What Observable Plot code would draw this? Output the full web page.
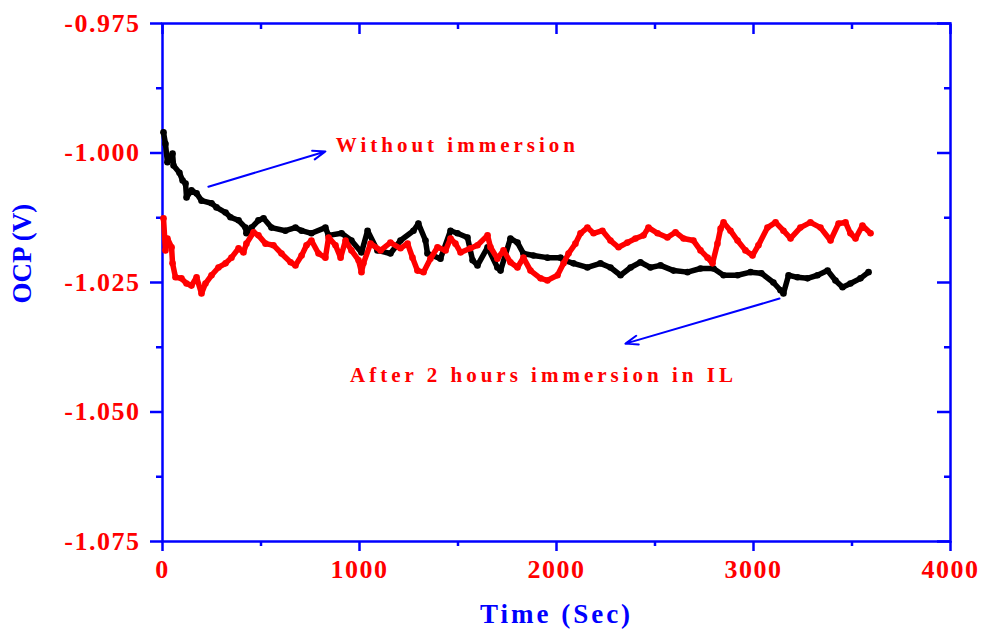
<!DOCTYPE html>
<html>
<head>
<meta charset="utf-8">
<script src="https://cdn.jsdelivr.net/npm/d3@7"></script>
<script src="https://cdn.jsdelivr.net/npm/@observablehq/plot@0.6"></script>
<style>
  body { margin: 0; background: #fff; }
  #chart svg { display: block; }
</style>
</head>
<body>
<div id="chart"></div>
<script>
// Open-circuit potential vs time, two conditions
const seriesNames = ["Without immersion", "After 2 hours immersion in IL"];

// Without immersion: [time (s), OCP (V)]
const withoutImmersion = [
  [5,-0.9960],[15,-0.9982],[25,-1.0018],[51,-1.0001],[56,-1.0024],[86,-1.0038],[102,-1.0053],
  [117,-1.0059],[122,-1.0086],[147,-1.0072],[173,-1.0078],[198,-1.0092],[249,-1.0097],[274,-1.0105],
  [320,-1.0115],[345,-1.0124],[386,-1.0130],[421,-1.0144],[426,-1.0155],[452,-1.0144],[487,-1.0130],
  [513,-1.0126],[553,-1.0144],[624,-1.0150],[675,-1.0144],[706,-1.0150],[756,-1.0155],[827,-1.0144],
  [843,-1.0159],[909,-1.0155],[959,-1.0169],[1010,-1.0192],[1041,-1.0150],[1091,-1.0188],[1157,-1.0194],
  [1208,-1.0169],[1274,-1.0150],[1299,-1.0136],[1335,-1.0169],[1345,-1.0194],[1411,-1.0204],[1462,-1.0150],
  [1497,-1.0155],[1548,-1.0163],[1574,-1.0207],[1599,-1.0217],[1650,-1.0182],[1700,-1.0221],[1716,-1.0227],
  [1766,-1.0165],[1802,-1.0173],[1832,-1.0194],[1883,-1.0198],[1954,-1.0202],[2020,-1.0202],[2036,-1.0207],
  [2086,-1.0213],[2157,-1.0221],[2223,-1.0213],[2274,-1.0221],[2325,-1.0236],[2376,-1.0221],[2426,-1.0211],
  [2477,-1.0221],[2528,-1.0217],[2594,-1.0227],[2665,-1.0230],[2731,-1.0223],[2797,-1.0223],[2848,-1.0236],
  [2919,-1.0236],[2985,-1.0230],[3040,-1.0232],[3101,-1.0250],[3137,-1.0265],[3152,-1.0271],[3178,-1.0236],
  [3223,-1.0240],[3274,-1.0242],[3325,-1.0236],[3376,-1.0227],[3416,-1.0246],[3452,-1.0259],[3492,-1.0252],
  [3543,-1.0242],[3584,-1.0230]
];

// After 2 hours immersion in IL: [time (s), OCP (V)]
const afterImmersion = [
  [5,-1.0126],[15,-1.0188],[25,-1.0165],[46,-1.0182],[51,-1.0213],[66,-1.0240],[96,-1.0242],
  [122,-1.0252],[147,-1.0256],[173,-1.0240],[198,-1.0271],[218,-1.0252],[249,-1.0236],[284,-1.0221],
  [320,-1.0213],[350,-1.0202],[386,-1.0184],[411,-1.0192],[426,-1.0175],[462,-1.0153],[487,-1.0159],
  [523,-1.0175],[563,-1.0178],[604,-1.0194],[650,-1.0211],[675,-1.0217],[706,-1.0198],[731,-1.0178],
  [756,-1.0169],[792,-1.0194],[827,-1.0202],[843,-1.0163],[878,-1.0178],[904,-1.0202],[929,-1.0169],
  [959,-1.0188],[995,-1.0207],[1010,-1.0230],[1020,-1.0213],[1056,-1.0175],[1107,-1.0188],[1157,-1.0173],
  [1208,-1.0184],[1244,-1.0175],[1269,-1.0202],[1294,-1.0227],[1325,-1.0230],[1360,-1.0204],[1396,-1.0182],
  [1437,-1.0188],[1462,-1.0165],[1487,-1.0175],[1513,-1.0192],[1563,-1.0184],[1599,-1.0178],[1650,-1.0159],
  [1665,-1.0182],[1700,-1.0204],[1731,-1.0188],[1766,-1.0211],[1802,-1.0221],[1832,-1.0202],[1868,-1.0227],
  [1919,-1.0242],[1954,-1.0246],[2005,-1.0236],[2036,-1.0213],[2061,-1.0194],[2096,-1.0175],[2122,-1.0155],
  [2157,-1.0144],[2188,-1.0155],[2233,-1.0150],[2274,-1.0169],[2315,-1.0182],[2360,-1.0173],[2401,-1.0165],
  [2442,-1.0159],[2467,-1.0144],[2513,-1.0155],[2563,-1.0163],[2604,-1.0153],[2645,-1.0165],[2695,-1.0169],
  [2731,-1.0188],[2767,-1.0202],[2792,-1.0213],[2817,-1.0175],[2833,-1.0146],[2848,-1.0134],[2883,-1.0150],
  [2919,-1.0169],[2959,-1.0188],[2995,-1.0198],[3025,-1.0178],[3071,-1.0144],[3112,-1.0134],[3152,-1.0150],
  [3188,-1.0165],[3238,-1.0144],[3289,-1.0134],[3340,-1.0144],[3391,-1.0169],[3432,-1.0136],[3467,-1.0134],
  [3492,-1.0155],[3518,-1.0165],[3553,-1.0140],[3594,-1.0155]
];

// Axis ticks
const xMajor = [0, 1000, 2000, 3000, 4000];
const xMinor = [500, 1500, 2500, 3500];
const yMajor = [-0.975, -1.000, -1.025, -1.050, -1.075];
const yMinor = [-0.9875, -1.0125, -1.0375, -1.0625];

// Callout arrows: [x1, y1, x2, y2] in data units, pointing from curve to label
const arrows = [
  [233, -1.0065, 827, -0.9997],
  [3132, -1.0281, 2350, -1.0368]
];
// Callout labels: [x, y, text]
const callouts = [
  [1497, -0.9986, seriesNames[0]],
  [1934, -1.0430, seriesNames[1]]
];

const blue = "#0000ff";
const red = "#ff0000";
const serif = "'Liberation Serif', 'Times New Roman', serif";

const toRows = (arr) => arr.map(([t, v]) => ({t, v}));
const black = toRows(withoutImmersion);
const redRows = toRows(afterImmersion);

const chart = Plot.plot({
  width: 982,
  height: 632,
  marginLeft: 162,
  marginRight: 32,
  marginTop: 23,
  marginBottom: 91,
  style: {fontFamily: serif, background: "#fff"},
  x: {domain: [0, 4000]},
  y: {domain: [-1.075, -0.975]},
  marks: [
    // outer ticks: bottom and left
    Plot.axisX({anchor: "bottom", ticks: xMajor, tickSize: 10, tickFormat: () => "", stroke: blue, strokeWidth: 2.5, label: null}),
    Plot.axisX({anchor: "bottom", ticks: xMinor, tickSize: 5, tickFormat: () => "", stroke: blue, strokeWidth: 2.5, label: null}),
    Plot.axisY({anchor: "left", ticks: yMajor, tickSize: 12, tickFormat: () => "", stroke: blue, strokeWidth: 2.5, label: null}),
    Plot.axisY({anchor: "left", ticks: yMinor, tickSize: 6, tickFormat: () => "", stroke: blue, strokeWidth: 2.5, label: null}),
    // inner ticks: top and right
    Plot.axisX({anchor: "top", ticks: xMajor, tickSize: -10, tickFormat: () => "", stroke: blue, strokeWidth: 2.5, label: null}),
    Plot.axisX({anchor: "top", ticks: xMinor, tickSize: -5, tickFormat: () => "", stroke: blue, strokeWidth: 2.5, label: null}),
    Plot.axisY({anchor: "right", ticks: yMajor, tickSize: -14, tickFormat: () => "", stroke: blue, strokeWidth: 2.5, label: null}),
    Plot.axisY({anchor: "right", ticks: yMinor, tickSize: -7, tickFormat: () => "", stroke: blue, strokeWidth: 2.5, label: null}),
    // tick labels (plain hyphen for the minus sign)
    Plot.axisX({anchor: "bottom", ticks: xMajor, tickSize: 0, tickPadding: 18, tickFormat: d => String(d),
      fill: red, fontSize: 26, fontWeight: "bold", label: null}),
    Plot.axisY({anchor: "left", ticks: yMajor, tickSize: 0, tickPadding: 22, tickFormat: d => d.toFixed(3),
      fill: red, fontSize: 26, fontWeight: "bold", label: null}),
    Plot.frame({stroke: blue, strokeWidth: 2.5}),
    // series
    Plot.line(black, {x: "t", y: "v", stroke: "#000", strokeWidth: 5.5, strokeLinejoin: "round", strokeLinecap: "round"}),
    Plot.dot(black, {x: "t", y: "v", r: 3.3, fill: "#000"}),
    Plot.line(redRows, {x: "t", y: "v", stroke: red, strokeWidth: 5.5, strokeLinejoin: "round", strokeLinecap: "round"}),
    Plot.dot(redRows, {x: "t", y: "v", r: 3.3, fill: red}),
    // callouts
    Plot.arrow(arrows, {x1: d => d[0], y1: d => d[1], x2: d => d[2], y2: d => d[3], stroke: blue, strokeWidth: 2, headLength: 10, headAngle: 40}),
    Plot.text(callouts, {x: d => d[0], y: d => d[1], text: d => d[2], fill: red, fontSize: 21, fontWeight: "bold"}),
    // axis titles
    Plot.text(["Time (Sec)"], {frameAnchor: "bottom", dy: 81, fill: blue, fontSize: 27, fontWeight: "bold"}),
    Plot.text(["OCP (V)"], {frameAnchor: "left", dx: -140, dy: 21, rotate: -90, fill: blue, fontSize: 27, fontWeight: "bold"})
  ]
});

// letter spacing on labels, set after render
d3.select(chart).selectAll("text").each(function () {
  const s = this.textContent;
  let ls = 1.5;
  if (s === seriesNames[0] || s === seriesNames[1]) ls = 4;
  else if (s === "Time (Sec)") ls = 3;
  else if (s === "OCP (V)") ls = 0;
  this.style.letterSpacing = ls + "px";
});

document.getElementById("chart").appendChild(chart);
</script>
</body>
</html>
